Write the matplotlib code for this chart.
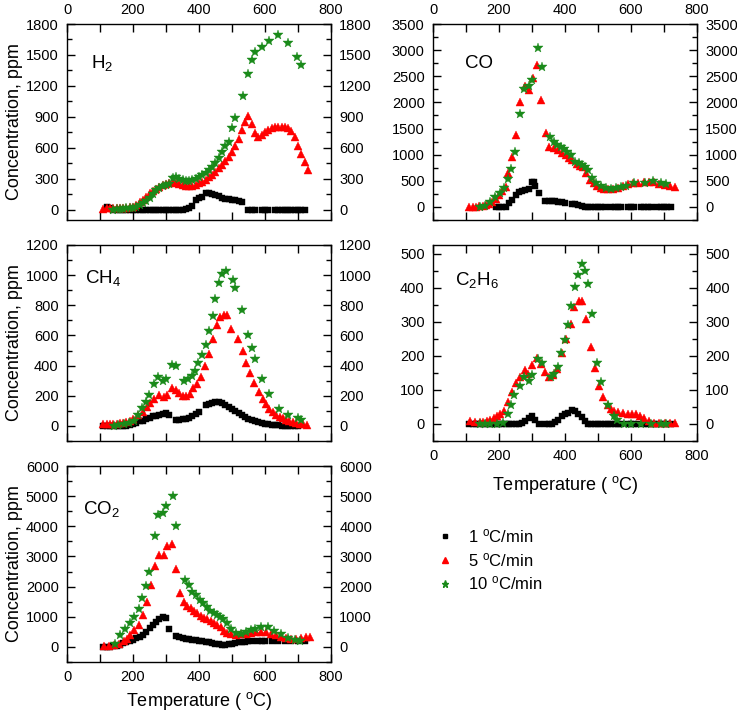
import matplotlib
matplotlib.use("Agg")
import matplotlib.pyplot as plt
from matplotlib.ticker import MultipleLocator
from matplotlib.lines import Line2D

plt.rcParams["font.family"] = ["Liberation Sans", "DejaVu Sans"]
plt.rcParams["mathtext.default"] = "regular"

# ---------------- data (temperature in degC, concentration in ppm) ----------------
# H2
h2_t1 = [120, 130, 140, 150, 160, 170, 180, 190, 200, 210, 220, 230, 240, 250, 260, 270, 280, 290,
         300, 310, 320, 330, 340, 350, 360, 370, 380, 390, 400, 410, 420, 430, 440, 450, 460, 470,
         480, 490, 500, 510, 520, 530, 550, 560, 570, 590, 600, 610, 630, 640, 650, 660, 670, 680,
         690, 700, 710, 720]
h2_v1 = [30, 20, 0, 0, 0, 0, 0, 0, 0, 0, 0, 0, 0, 0, 0, 0, 0, 0,
         0, 0, 0, 0, 0, 0, 10, 20, 40, 90, 110, 120, 160, 165, 155, 140, 130, 115,
         105, 100, 95, 90, 80, 70, 0, 0, 0, 0, 0, 0, 0, 0, 0, 0, 0, 0,
         0, 0, 0, 0]
h2_t5 = [110, 120, 130, 140, 150, 160, 170, 180, 190, 200, 210, 220, 230, 240, 250, 260, 270, 280,
         290, 300, 310, 320, 330, 340, 350, 360, 370, 380, 390, 400, 410, 420, 430, 440, 450, 460,
         470, 480, 490, 500, 510, 520, 530, 540, 550, 560, 570, 580, 590, 600, 610, 620, 630, 640,
         650, 660, 670, 680, 690, 700, 710, 720, 730]
h2_v5 = [10, 15, 15, 15, 15, 15, 20, 20, 25, 30, 45, 70, 95, 125, 160, 185, 205, 220,
         235, 245, 260, 265, 255, 245, 235, 230, 230, 232, 240, 255, 270, 290, 315, 340, 370, 400,
         430, 470, 510, 560, 620, 690, 770, 850, 905, 830, 740, 700, 720, 750, 770, 790, 800, 805,
         805, 800, 790, 760, 700, 620, 540, 460, 380]
h2_t10 = [140, 150, 160, 170, 180, 190, 200, 210, 220, 230, 240, 250, 260, 270, 280, 290, 300, 310,
          320, 330, 340, 350, 360, 370, 380, 390, 400, 410, 420, 430, 440, 450, 460, 470, 480, 490,
          500, 508, 532, 550, 560, 570, 590, 612, 640, 670, 698, 710]
h2_v10 = [0, 5, 8, 10, 12, 15, 20, 30, 45, 60, 85, 110, 150, 190, 210, 225, 240, 250,
          305, 315, 300, 285, 275, 280, 290, 300, 320, 340, 360, 385, 415, 450, 500, 560, 620, 660,
          790, 890, 1100, 1320, 1450, 1530, 1580, 1640, 1690, 1620, 1480, 1400]

# CO
co_t1 = [190, 200, 210, 220, 230, 240, 250, 260, 270, 280, 290, 300, 305, 310, 320, 340, 350, 360,
         370, 380, 390, 400, 420, 430, 440, 450, 460, 470, 480, 490, 500, 510, 520, 540, 550, 560,
         570, 590, 600, 610, 630, 640, 650, 660, 680, 690, 700, 710, 720]
co_v1 = [0, 0, 0, 0, 80, 125, 230, 280, 300, 320, 350, 470, 480, 410, 260, 110, 110, 115,
         105, 95, 90, 80, 60, 55, 40, 20, 0, 0, 0, 0, 0, 0, 0, 0, 0, 0,
         0, 0, 0, 0, 0, 0, 0, 0, 0, 0, 0, 0, 0]
co_t5 = [110, 120, 130, 140, 150, 160, 170, 180, 190, 200, 210, 220, 227, 240, 253, 265, 278, 290,
         303, 314, 328, 341, 353, 366, 379, 392, 402, 412, 422, 435, 445, 455, 465, 476, 488, 498,
         509, 519, 530, 545, 560, 575, 590, 605, 620, 640, 656, 671, 686, 702, 717, 732]
co_v5 = [0, 5, 5, 10, 15, 30, 60, 100, 160, 230, 300, 390, 640, 960, 1370, 2010, 2310, 2240,
         2470, 2710, 2040, 1420, 1150, 1135, 1085, 1035, 990, 945, 895, 830, 780, 755, 640, 510, 450, 400,
         370, 350, 345, 345, 365, 395, 430, 450, 460, 470, 480, 470, 435, 415, 395, 385]
co_t10 = [143, 158, 174, 189, 204, 216, 226, 237, 248, 263, 275, 290, 301, 318, 329, 356, 366, 377,
          387, 397, 407, 417, 429, 443, 453, 460, 470, 481, 493, 509, 524, 539, 554, 570, 585, 610,
          641, 666, 692, 707]
co_v10 = [0, 10, 95, 190, 270, 370, 540, 735, 1055, 1770, 2250, 2310, 2430, 3035, 2670, 1340, 1245, 1180,
          1150, 1100, 1055, 990, 860, 840, 800, 765, 700, 545, 450, 395, 365, 345, 365, 385, 400, 460,
          460, 500, 460, 435]

# CH4
ch4_t1 = [110, 120, 130, 140, 150, 160, 170, 180, 190, 200, 210, 220, 230, 240, 250, 260, 270, 280,
          290, 300, 310, 330, 340, 350, 360, 370, 380, 390, 400, 420, 430, 440, 450, 460, 470, 480,
          490, 500, 510, 520, 530, 540, 550, 560, 570, 580, 590, 600, 610, 620, 630, 640, 650, 660,
          670, 680, 690, 700]
ch4_v1 = [0, 0, 0, 0, 0, 0, 0, 2, 8, 15, 20, 30, 35, 45, 55, 63, 68, 73,
          78, 85, 70, 40, 40, 43, 47, 55, 65, 80, 90, 137, 145, 153, 158, 160, 150, 138,
          126, 110, 98, 88, 70, 58, 48, 40, 32, 25, 20, 15, 12, 8, 5, 3, 2, 0,
          0, 0, 0, 0]
ch4_t5 = [110, 120, 130, 140, 150, 160, 170, 180, 190, 200, 215, 230, 243, 253, 265, 278, 293, 304,
          317, 329, 339, 352, 361, 373, 383, 393, 405, 417, 430, 443, 454, 464, 476, 486, 497, 517,
          532, 543, 555, 568, 581, 593, 603, 613, 623, 634, 644, 654, 664, 674, 684, 695, 705, 715, 728]
ch4_v5 = [10, 12, 12, 15, 15, 18, 20, 25, 35, 48, 70, 95, 125, 150, 180, 205, 195, 205,
          250, 235, 220, 200, 197, 215, 250, 280, 325, 395, 480, 575, 670, 720, 735, 735, 645, 575,
          500, 420, 350, 285, 225, 180, 145, 115, 95, 75, 60, 50, 40, 32, 27, 20, 15, 12, 5]
ch4_t10 = [141, 156, 172, 187, 202, 214, 227, 238, 248, 265, 275, 291, 301, 319, 329, 356, 368, 378,
           388, 398, 410, 420, 430, 441, 448, 460, 470, 481, 502, 510, 530, 550, 561, 571, 591, 611,
           641, 671, 700, 710]
ch4_v10 = [0, 5, 10, 20, 33, 70, 120, 160, 205, 280, 325, 300, 310, 405, 395, 300, 310, 330,
           365, 415, 470, 535, 630, 730, 845, 945, 1010, 1025, 970, 915, 770, 600, 520, 445, 310, 210,
           115, 70, 50, 40]

# C2H6
c2h6_t1 = [110, 120, 130, 140, 150, 160, 170, 180, 190, 200, 210, 220, 230, 240, 250, 260, 270, 280,
           290, 300, 310, 320, 340, 350, 360, 370, 380, 390, 400, 410, 420, 430, 440, 450, 460, 470,
           480, 490, 500, 510, 520, 530, 540, 550, 560, 570, 590, 600, 610, 620, 640, 650, 660, 670,
           680, 690, 700, 710, 720]
c2h6_v1 = [0, 0, 0, 0, 0, 0, 0, 0, 0, 0, 0, 0, 0, 0, 0, 0, 3, 8,
           17, 22, 12, 0, 0, 0, 0, 5, 13, 23, 30, 31, 40, 37, 30, 20, 10, 0,
           0, 0, 0, 0, 0, 0, 0, 0, 0, 0, 0, 0, 0, 0, 0, 0, 0, 0,
           0, 0, 0, 0, 0]
c2h6_t5 = [113, 128, 143, 153, 163, 174, 184, 194, 204, 216, 228, 240, 252, 263, 278, 288, 301, 316,
           326, 339, 351, 363, 376, 390, 402, 417, 427, 441, 453, 465, 478, 491, 504, 516, 529, 539,
           549, 562, 575, 590, 603, 615, 628, 640, 656, 671, 686, 702, 717, 732]
c2h6_v5 = [8, 5, 5, 7, 8, 12, 18, 23, 30, 39, 64, 93, 121, 138, 157, 148, 172, 194,
           177, 153, 138, 143, 162, 209, 248, 293, 342, 361, 361, 307, 226, 164, 110, 79, 56, 44,
           37, 34, 31, 30, 30, 28, 24, 17, 10, 3, 2, 2, 2, 2]
c2h6_t10 = [143, 158, 174, 194, 212, 226, 236, 246, 263, 275, 290, 301, 318, 329, 357, 368, 379, 389,
            399, 409, 417, 429, 438, 450, 460, 470, 481, 498, 510, 529, 549, 559, 580, 600, 631, 661,
            692, 707]
c2h6_v10 = [0, 0, 0, 0, 2, 28, 57, 84, 110, 138, 126, 143, 192, 179, 138, 148, 167, 207,
            246, 290, 346, 401, 438, 470, 450, 410, 323, 179, 123, 57, 22, 12, 0, 0, 0, 0,
            0, 0]

# CO2
co2_t1 = [110, 120, 130, 140, 150, 160, 170, 180, 190, 200, 210, 220, 230, 240, 250, 260, 270, 280,
          290, 300, 310, 330, 340, 350, 360, 370, 380, 390, 400, 410, 420, 430, 440, 450, 460, 470,
          480, 490, 500, 510, 520, 530, 540, 550, 560, 580, 590, 600, 620, 640, 660, 680, 700, 720]
co2_v1 = [0, 5, 10, 15, 30, 70, 130, 160, 210, 240, 280, 330, 380, 480, 620, 740, 830, 920,
          1000, 950, 600, 350, 320, 290, 270, 250, 230, 215, 195, 180, 165, 150, 130, 110, 85, 80,
          80, 95, 110, 130, 150, 165, 175, 180, 180, 180, 180, 180, 180, 180, 180, 185, 185, 200]
co2_t5 = [111, 126, 141, 157, 172, 182, 192, 204, 217, 230, 243, 255, 268, 280, 294, 304, 317, 329,
          341, 354, 365, 375, 385, 395, 405, 415, 425, 436, 446, 456, 466, 476, 486, 497, 512, 527,
          542, 558, 573, 588, 603, 618, 634, 649, 664, 679, 695, 710, 725, 735]
co2_v5 = [30, 40, 60, 100, 200, 250, 380, 550, 720, 1050, 1500, 2050, 2670, 3050, 3050, 3350, 3400, 2580,
          1800, 1500, 1370, 1280, 1200, 1110, 1030, 965, 910, 855, 800, 720, 645, 540, 450, 420, 390, 420,
          440, 470, 500, 500, 480, 445, 390, 330, 280, 255, 270, 310, 330, 320]
co2_t10 = [146, 162, 177, 192, 204, 217, 227, 238, 248, 266, 276, 291, 301, 321, 331, 359, 369, 380,
           390, 403, 413, 423, 433, 444, 454, 464, 474, 484, 497, 512, 527, 542, 558, 571, 588, 608,
           628, 649, 671, 690, 705]
co2_v10 = [110, 390, 580, 780, 1000, 1245, 1610, 2020, 2500, 3690, 4390, 4440, 4665, 5000, 4000, 2220, 2055, 1830,
           1720, 1555, 1445, 1330, 1200, 1130, 1055, 1000, 910, 780, 610, 470, 445, 500, 555, 610, 665, 665,
           535, 420, 280, 220, 200]

rate_labels = ["1 $^{o}$C/min", "5 $^{o}$C/min", "10 $^{o}$C/min"]

# ---------------- styling ----------------
RED = "#ff0000"
GREEN = "#1a8a1a"
STYLES = [dict(marker="s", color="black", ms=4.2),
          dict(marker="^", color=RED, ms=6.0),
          dict(marker="*", color=GREEN, ms=7.0)]

W, H = 737, 713
fig = plt.figure(figsize=(W / 100, H / 100), dpi=100)


def make_ax(left_px, top_px, w_px=264, h_px=196):
    return fig.add_axes([left_px / W, 1 - (top_px + h_px) / H, w_px / W, h_px / H])


def panel(ax, series, ylim, ystep, label, label_xy, xlabels=None, ylabel=False, xlabel_pad=None):
    for (t, v), st in zip(series, STYLES):
        ax.plot(t, v, ls="none", marker=st["marker"], color=st["color"], ms=st["ms"],
                mec=st["color"], mew=0.3)
    ax.set_xlim(0, 800)
    ax.set_ylim(*ylim)
    ax.xaxis.set_major_locator(MultipleLocator(200))
    ax.xaxis.set_minor_locator(MultipleLocator(100))
    ax.yaxis.set_major_locator(MultipleLocator(ystep))
    ax.yaxis.set_minor_locator(MultipleLocator(ystep / 2))
    ax.tick_params(which="both", direction="in", top=True, bottom=True, left=True, right=True,
                   labelleft=True, labelright=True, labelsize=10.5, width=1.0, pad=6)
    ax.tick_params(which="major", length=6)
    ax.tick_params(which="minor", length=3.5)
    ax.tick_params(axis="x", which="minor", length=6)
    ax.tick_params(axis="x", labeltop=(xlabels == "top"), labelbottom=(xlabels == "bottom"))
    if xlabels == "top":
        ax.tick_params(axis="x", pad=5)
    for s in ax.spines.values():
        s.set_linewidth(1.0)
    ax.text(label_xy[0], label_xy[1], label, transform=ax.transAxes, fontsize=13.5,
            ha="left", va="center")
    if ylabel:
        ax.set_ylabel("Concentration, ppm", fontsize=13, labelpad=2)
    if xlabel_pad is not None:
        ax.set_xlabel("Temperature ( $^{o}$C)", fontsize=13, labelpad=xlabel_pad)


ax_h2 = make_ax(67, 24)
panel(ax_h2, [(h2_t1, h2_v1), (h2_t5, h2_v5), (h2_t10, h2_v10)], (-100, 1800), 300,
      "H$_2$", (0.09, 0.80), xlabels="top", ylabel=True)

ax_co = make_ax(433, 24)
panel(ax_co, [(co_t1, co_v1), (co_t5, co_v5), (co_t10, co_v10)], (-250, 3500), 500,
      "CO", (0.12, 0.80), xlabels="top")

ax_ch4 = make_ax(67, 245)
panel(ax_ch4, [(ch4_t1, ch4_v1), (ch4_t5, ch4_v5), (ch4_t10, ch4_v10)], (-100, 1200), 200,
      "CH$_4$", (0.07, 0.83), ylabel=True)

ax_c2h6 = make_ax(433, 245)
panel(ax_c2h6, [(c2h6_t1, c2h6_v1), (c2h6_t5, c2h6_v5), (c2h6_t10, c2h6_v10)], (-50, 525), 100,
      "C$_2$H$_6$", (0.085, 0.82), xlabels="bottom", xlabel_pad=8)

ax_co2 = make_ax(67, 466)
panel(ax_co2, [(co2_t1, co2_v1), (co2_t5, co2_v5), (co2_t10, co2_v10)], (-500, 6000), 1000,
      "CO$_2$", (0.06, 0.78), xlabels="bottom", ylabel=True, xlabel_pad=4)

handles = [Line2D([], [], ls="none", marker=st["marker"], color=st["color"], ms=st["ms"] * 0.75)
           for st in STYLES]
fig.legend(handles, rate_labels, loc="upper left", bbox_to_anchor=(420 / W, 1 - 512 / H),
           frameon=False, fontsize=12, handlelength=1.2, handletextpad=0.8, labelspacing=0.35)

fig.savefig("out.png", dpi=100)
